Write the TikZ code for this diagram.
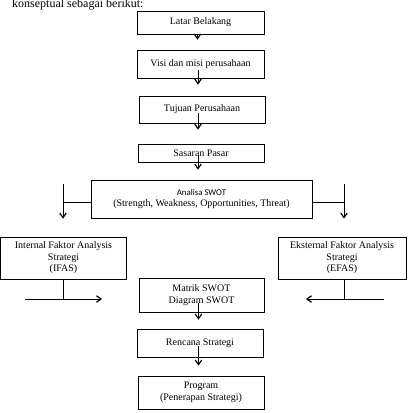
\documentclass[tikz,border=0pt]{standalone}
\usepackage{fontspec}
\setmainfont{Liberation Serif}
\newfontfamily\carl{Carlito}
\usetikzlibrary{arrows.meta}
\begin{document}
\begin{tikzpicture}[x=1pt,y=-1pt,
  box/.style={draw=black,line width=0.8pt,align=center,inner sep=0pt,font=\fontsize{10}{11.5}\selectfont},
  arr/.style={draw=black,line width=0.7pt,-{Straight Barb[length=4.5pt,width=6.5pt,line width=1.2pt]}},
  ln/.style={draw=black,line width=0.7pt}]
\useasboundingbox (0,0) rectangle (409,413);
\clip (0,0) rectangle (409,413);
\node[anchor=base west,inner sep=0pt,font=\fontsize{12}{14}\selectfont] (hdr) at (12,7.5) {konseptual sebagai berikut:};
\node[box,minimum width=127pt,minimum height=23pt] (latar) at (200.5,22.5) {Latar Belakang};
\node[box,minimum width=127pt,minimum height=28pt] (visi) at (200.5,64) {Visi dan misi perusahaan};
\node[box,minimum width=126pt,minimum height=27pt] (tujuan) at (202,109.5) {Tujuan Perusahaan};
\node[box,minimum width=126pt,minimum height=18pt] (sasaran) at (201,153) {Sasaran Pasar};
\node[box,minimum width=221pt,minimum height=38pt] (swot) at (201.5,199) {{\carl\fontsize{8.8}{11.5}\selectfont Analisa SWOT}\\(Strength, Weakness, Opportunities, Threat)};
\node[box,minimum width=126pt,minimum height=42pt] (ifas) at (63.5,258) {Internal Faktor Analysis\\Strategi\\(IFAS)};
\node[box,minimum width=128pt,minimum height=42pt] (efas) at (342,258) {Eksternal Faktor Analysis\\Strategi\\(EFAS)};
\node[box,minimum width=125pt,minimum height=34pt] (matrik) at (201.5,295) {Matrik SWOT\\Diagram SWOT};
\node[box,minimum width=126pt,minimum height=28pt] (rencana) at (200,343) {Rencana Strategi};
\node[box,minimum width=126pt,minimum height=33pt] (program) at (201,392.5) {Program\\(Penerapan Strategi)};
% central arrows
\draw[arr,shorten >=10pt] ([xshift=-3pt]latar.south) -- ([xshift=-3pt]latar.south |- visi.north);
\draw[arr,shorten >=11pt] ([xshift=-2.5pt,yshift=8pt]visi.south) -- ([xshift=-2.5pt]visi.south |- tujuan.north);
\draw[arr,shorten >=14pt] ([xshift=-4pt,yshift=10pt]tujuan.south) -- ([xshift=-4pt]tujuan.south |- sasaran.north);
\draw[arr,shorten >=10pt] ([xshift=-3pt,yshift=7pt]sasaran.south) -- ([xshift=-3pt]sasaran.south |- swot.north);
\draw[arr,shorten >=9pt] ([xshift=-3pt,yshift=9pt]matrik.south) -- ([xshift=-3pt]matrik.south |- rencana.north);
\draw[arr,shorten >=10pt] ([xshift=-1.5pt,yshift=11pt]rencana.south) -- ([xshift=-1.5pt]rencana.south |- program.north);
% SWOT to IFAS / EFAS
\coordinate (lt) at (63,184);
\coordinate (rt) at (344,184);
\draw[ln] ([yshift=-3pt]swot.west) -- ([yshift=-3pt]swot.west -| lt);
\draw[ln] ([yshift=-3pt]swot.east) -- ([yshift=-3pt]swot.east -| rt);
\draw[arr,shorten >=18pt] (lt) -- (lt |- ifas.north);
\draw[arr,shorten >=18pt] (rt) -- (rt |- efas.north);
% IFAS / EFAS to Matrik
\coordinate (il) at (25,299);
\coordinate (ir) at (102,299);
\coordinate (el) at (384,299);
\coordinate (er) at (306,299);
\draw[ln] (ifas.south -| lt) -- (il -| lt);
\draw[arr] (il) -- (ir);
\draw[ln] (efas.south -| rt) -- (el -| rt);
\draw[arr] (el) -- (er);
\end{tikzpicture}
\end{document}
